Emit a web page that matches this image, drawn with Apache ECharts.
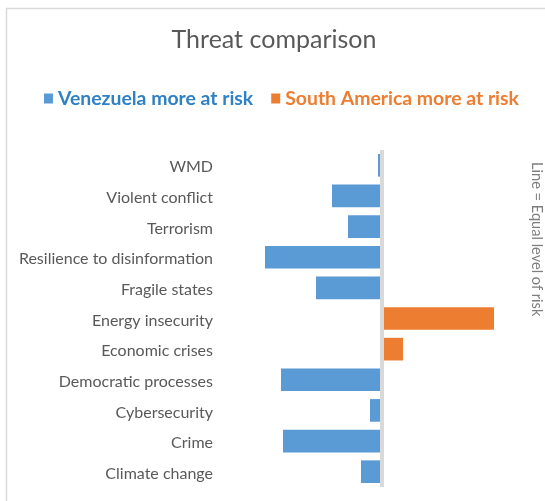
<!DOCTYPE html>
<html>
<head>
<meta charset="utf-8">
<script src="https://cdn.jsdelivr.net/npm/echarts@6/dist/echarts.min.js"></script>
<style>
  html, body { margin: 0; padding: 0; background: #fff; }
  #chart { width: 545px; height: 501px; }
</style>
</head>
<body>
<div id="chart"></div>
<script>
// categories top to bottom
const categories = ['WMD', 'Violent conflict', 'Terrorism', 'Resilience to disinformation',
  'Fragile states', 'Energy insecurity', 'Economic crises', 'Democratic processes',
  'Cybersecurity', 'Crime', 'Climate change'];
// negative = Venezuela more at risk, positive = South America more at risk
const venezuelaMore = [-0.04, -0.50, -0.34, -1.17, -0.66, null, null, -1.01, -0.12, -0.99, -0.21];
const southAmericaMore = [null, null, null, null, null, 1.12, 0.21, null, null, null, null];

const chart = echarts.init(document.getElementById('chart'));
const font = 'Lato, "Open Sans", sans-serif';

const option = {
  backgroundColor: '#ffffff',
  animation: false,
  textStyle: { fontFamily: font },
  title: {
    text: 'Threat comparison',
    left: 269,
    textAlign: 'center',
    top: 22,
    textStyle: { fontFamily: font, fontSize: 25, fontWeight: 'normal', color: '#595959' }
  },
  legend: {
    left: 39,
    top: 84,
    itemWidth: 9,
    itemHeight: 10,
    itemGap: 18,
    icon: 'rect',
    textStyle: { fontFamily: font, fontSize: 19.4, fontWeight: 'bold' },
    data: [
      { name: 'Venezuela more at risk', textStyle: { color: '#2f80c4' } },
      { name: 'South America more at risk', textStyle: { color: '#ed7d31' } }
    ]
  },
  graphic: [
    {
      type: 'rect',
      shape: { x: 6.5, y: 8.5, width: 600, height: 600 },
      style: { fill: 'none', stroke: '#d9d9d9', lineWidth: 1.5 },
      silent: true
    },
    {
      type: 'text',
      x: 544,
      y: 162,
      rotation: -Math.PI / 2,
      style: { text: 'Line = Equal level of risk', fill: '#7f7f7f', fontFamily: font, fontSize: 14.6 }
    }
  ],
  grid: { left: 222, right: 23, top: 150, bottom: 14 },
  xAxis: {
    type: 'value',
    min: -1.6,
    max: 1.4,
    show: false
  },
  yAxis: {
    type: 'category',
    inverse: true,
    data: categories,
    axisLine: { show: false },
    axisTick: { show: false },
    axisLabel: { margin: 9, fontFamily: font, fontSize: 16, color: '#595959', verticalAlign: 'top', padding: [-6, 0, 0, 0] }
  },
  series: [
    {
      name: 'Venezuela more at risk',
      type: 'bar',
      stack: 'risk',
      barCategoryGap: '26%',
      itemStyle: { color: '#5b9bd5' },
      data: venezuelaMore,
      markLine: {
        silent: true,
        symbol: 'none',
        label: { show: false },
        lineStyle: { color: '#d9d9d9', width: 4, type: 'solid' },
        data: [{ xAxis: 0 }],
        z: 5
      }
    },
    {
      name: 'South America more at risk',
      type: 'bar',
      stack: 'risk',
      barCategoryGap: '26%',
      itemStyle: { color: '#ed7d31' },
      data: southAmericaMore
    }
  ]
};

chart.setOption(option);
window.addEventListener('resize', () => chart.resize());
</script>
</body>
</html>
